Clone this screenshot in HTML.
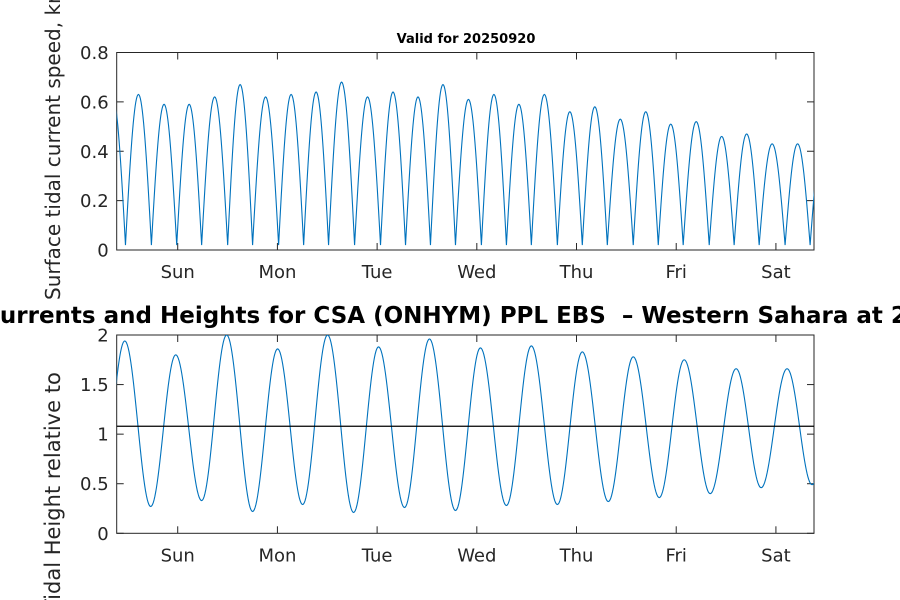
<!DOCTYPE html>
<html><head><meta charset="utf-8"><style>
html,body{margin:0;padding:0;background:#fff;}
svg{display:block;font-family:"DejaVu Sans","Liberation Sans",sans-serif;}
</style></head><body>
<svg id="chart" width="900" height="600" viewBox="0 0 900 600" xmlns="http://www.w3.org/2000/svg">
<rect x="0" y="0" width="900" height="600" fill="#fff"/>
<g id="top"></g>
<g id="bot"></g>
<text x="466" y="43" font-size="13" font-weight="bold" text-anchor="middle">Valid for 20250920</text>
<text x="-17" y="323" font-size="23" font-weight="bold" xml:space="preserve" style="white-space:pre">Currents and Heights for CSA (ONHYM) PPL EBS  – Western Sahara at 20250920</text>
<text transform="translate(60,300) rotate(-90)" font-size="20" fill="#262626">Surface tidal current speed, knots</text>
<text transform="translate(60,612) rotate(-90)" font-size="21" fill="#262626">Tidal Height relative to</text>
</svg>
<script>
// ---- data ----
const dayLabels = ["Sun","Mon","Tue","Wed","Thu","Fri","Sat"];
const dayTicks = [0,1,2,3,4,5,6];
const currentTicks = [0,0.2,0.4,0.6,0.8];
const heightTicks = [0,0.5,1,1.5,2];
const heightTickLabels = ["0","0.5","1","1.5","2"];
// current speed: zero-crossing times (days from Sun 00:00) and lobe peak values
const currentZeros = [-0.782,-0.524,-0.264,-0.010,0.240,0.501,0.751,1.012,1.263,1.513,1.774,2.034,2.285,2.535,2.786,3.046,3.297,3.547,3.808,4.058,4.309,4.569,4.820,5.070,5.331,5.581,5.832,6.092,6.343,6.597];
const currentPeaks = [0.62,0.63,0.59,0.59,0.62,0.67,0.62,0.63,0.64,0.68,0.62,0.64,0.62,0.67,0.61,0.63,0.59,0.63,0.56,0.58,0.53,0.56,0.51,0.52,0.46,0.47,0.43,0.43,0.45];
const currentFloor = 0.02;
// tidal height extrema
const heightTimes = [-0.782,-0.531,-0.271,-0.020,0.240,0.491,0.751,1.002,1.253,1.503,1.764,2.014,2.275,2.525,2.786,3.036,3.297,3.547,3.808,4.058,4.319,4.569,4.830,5.080,5.341,5.601,5.852,6.112,6.363,6.623];
const heightVals = [0.30,1.94,0.27,1.80,0.33,2.00,0.22,1.86,0.29,2.00,0.21,1.88,0.26,1.96,0.23,1.87,0.28,1.89,0.29,1.83,0.32,1.78,0.36,1.75,0.40,1.66,0.46,1.66,0.49,1.60];
const meanLevel = [1.08];

// ---- axes ----
const X0=116.7, X1=814, T0=-0.612, T1=6.382;
const xs = t => X0 + (t-T0)/(T1-T0)*(X1-X0);
const topAx = {y0:250, y1:52.5, v0:0, v1:0.8};
const botAx = {y0:533.3, y1:335, v0:0, v1:2};
const ys = (ax,v) => ax.y0 + (v-ax.v0)/(ax.v1-ax.v0)*(ax.y1-ax.y0);
const NS="http://www.w3.org/2000/svg";
function mk(tag, attrs, parent){const e=document.createElementNS(NS,tag);for(const k in attrs)e.setAttribute(k,attrs[k]);parent.appendChild(e);return e;}

function drawAxes(g, ax, yticks, ylabels, prefix){
  const clipId = prefix+"-clip";
  const cp = mk("clipPath",{id:clipId},g);
  mk("rect",{x:X0,y:ax.y1,width:X1-X0,height:ax.y0-ax.y1},cp);
  dayTicks.forEach((d,i)=>{
    const x=xs(d);
    const t1=mk("line",{x1:x,x2:x,y1:ax.y0,y2:ax.y0-7,stroke:"#262626","stroke-width":1},g);
    
    
    const t2=mk("line",{x1:x,x2:x,y1:ax.y1,y2:ax.y1+7,stroke:"#262626","stroke-width":1},g);
    
    
    const lb=mk("text",{x:x,y:ax.y0+28,"font-size":18,"text-anchor":"middle",fill:"#262626"},g);
    lb.textContent=dayLabels[i];
    
    
  });
  yticks.forEach((v,i)=>{
    const y=ys(ax,v);
    const t=mk("line",{x1:X0,x2:X0+7,y1:y,y2:y,stroke:"#262626","stroke-width":1},g);
    
    
    const t2=mk("line",{x1:X1,x2:X1-7,y1:y,y2:y,stroke:"#262626","stroke-width":1},g);
    
    
    const lb=mk("text",{x:X0-8,y:y+6.5,"font-size":18,"text-anchor":"end",fill:"#262626"},g);
    lb.textContent=ylabels[i];
    
    
  });
  const box=mk("rect",{x:X0,y:ax.y1,width:X1-X0,height:ax.y0-ax.y1,fill:"none",stroke:"#262626","stroke-width":1},g);
  
  
  return clipId;
}

const gTop=document.getElementById("top"), gBot=document.getElementById("bot");
const c1=drawAxes(gTop, topAx, currentTicks, currentTicks.map(v=>String(v)), "current");
const c2=drawAxes(gBot, botAx, heightTicks, heightTickLabels, "height");

// current series
let d="";
for(let i=0;i<currentPeaks.length;i++){
  const a=currentZeros[i], b=currentZeros[i+1], p=currentPeaks[i];
  for(let k=0;k<=40;k++){
    const t=a+(b-a)*k/40;
    const v=currentFloor+(p-currentFloor)*Math.sin(Math.PI*k/40);
    d+=(d?"L":"M")+xs(t).toFixed(2)+","+ys(topAx,v).toFixed(2);
  }
}
const cl=mk("path",{d:d,fill:"none",stroke:"#0072BD","stroke-width":1.1,"clip-path":"url(#"+c1+")"},gTop);



// height series
d="";
for(let i=0;i<heightTimes.length-1;i++){
  const a=heightTimes[i], b=heightTimes[i+1], va=heightVals[i], vb=heightVals[i+1];
  for(let k=0;k<=30;k++){
    const f=k/30, t=a+(b-a)*f;
    const v=va+(vb-va)*(1-Math.cos(Math.PI*f))/2;
    d+=(d?"L":"M")+xs(t).toFixed(2)+","+ys(botAx,v).toFixed(2);
  }
}
const hl=mk("path",{d:d,fill:"none",stroke:"#0072BD","stroke-width":1.1,"clip-path":"url(#"+c2+")"},gBot);


const ml=mk("line",{x1:X0,x2:X1,y1:ys(botAx,meanLevel[0]),y2:ys(botAx,meanLevel[0]),stroke:"#000","stroke-width":1.2},gBot);


</script>
</body></html>
